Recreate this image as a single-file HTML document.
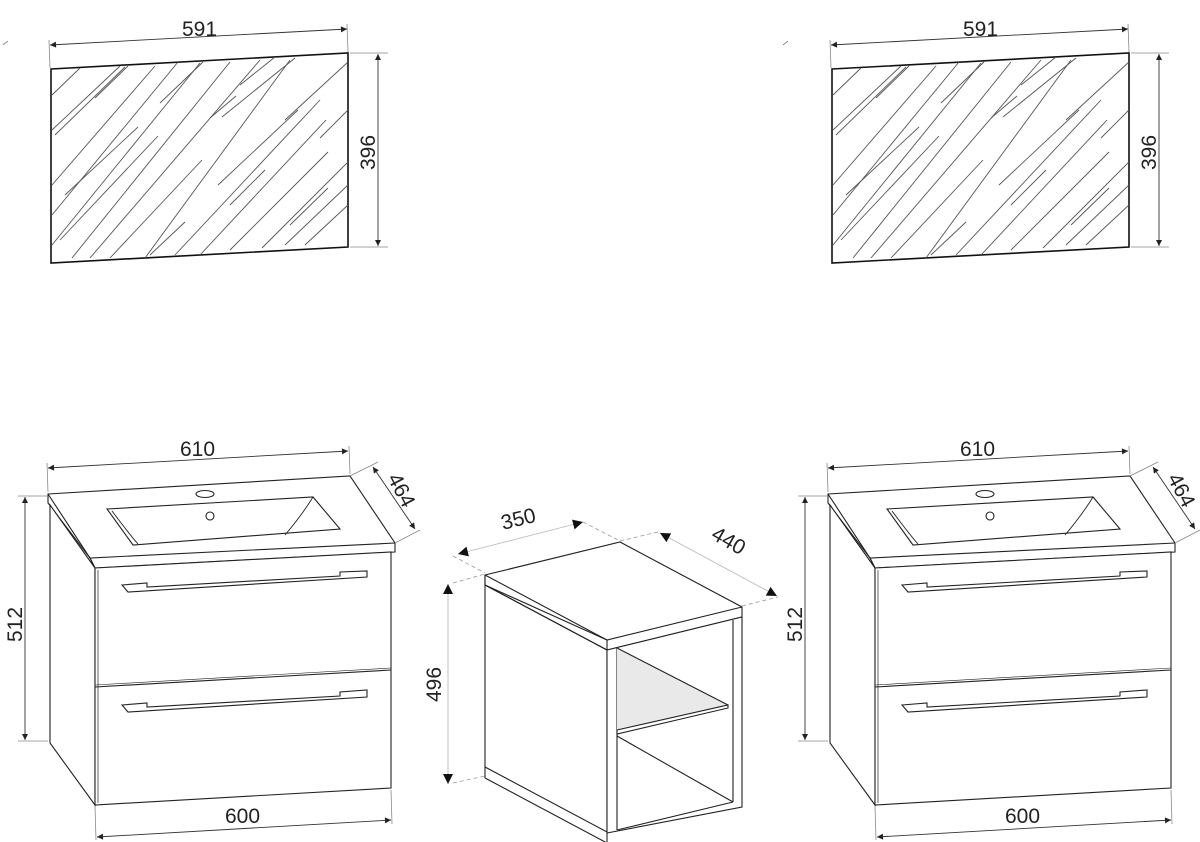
<!DOCTYPE html>
<html><head><meta charset="utf-8"><style>
html,body{margin:0;padding:0;background:#fff;}
svg{display:block;}
text{font-family:"Liberation Sans",Arial,sans-serif;font-size:21px;fill:#222;}
</style></head><body>
<svg width="1200" height="842" viewBox="0 0 1200 842" xmlns="http://www.w3.org/2000/svg">
<defs>
<marker id="a" viewBox="0 0 10 10" refX="10" refY="5" markerWidth="9" markerHeight="6" orient="auto-start-reverse" markerUnits="userSpaceOnUse"><path d="M0,0 L10,5 L0,10 z" fill="#222"/></marker>
<marker id="b" viewBox="0 0 10 10" refX="10" refY="5" markerWidth="16" markerHeight="10" orient="auto-start-reverse" markerUnits="userSpaceOnUse"><path d="M0,0 L10,5 L0,10 z" fill="#111"/></marker>
<clipPath id="mc"><polygon points="51,69 348,53 348,247 51,263"/></clipPath>
<g id="mirror">
 <polygon points="51,69 348,53 348,247 51,263" fill="#fff" stroke="#111" stroke-width="1.6"/>
 <g clip-path="url(#mc)" stroke="#555" stroke-width="0.9">
  <line x1="52" y1="95" x2="80" y2="68"/><line x1="52" y1="130" x2="120" y2="66"/><line x1="55" y1="135" x2="125" y2="67"/>
  <line x1="95" y1="98" x2="128" y2="66"/><line x1="52" y1="185" x2="155" y2="66"/><line x1="52" y1="215" x2="178" y2="62"/>
  <line x1="65" y1="195" x2="138" y2="127"/><line x1="52" y1="245" x2="200" y2="63"/><line x1="60" y1="240" x2="158" y2="136"/>
  <line x1="72" y1="258" x2="230" y2="62"/><line x1="90" y1="258" x2="260" y2="60"/><line x1="110" y1="258" x2="202" y2="160"/>
  <line x1="145" y1="258" x2="290" y2="60"/><line x1="150" y1="255" x2="185" y2="222"/><line x1="160" y1="103" x2="203" y2="62"/>
  <line x1="210" y1="118" x2="236" y2="96"/><line x1="222" y1="117" x2="295" y2="58"/><line x1="230" y1="205" x2="265" y2="170"/>
  <line x1="218" y1="185" x2="298" y2="110"/><line x1="175" y1="255" x2="320" y2="100"/><line x1="200" y1="255" x2="326" y2="120"/>
  <line x1="230" y1="250" x2="328" y2="152"/><line x1="262" y1="248" x2="348" y2="162"/><line x1="285" y1="245" x2="348" y2="185"/>
  <line x1="305" y1="245" x2="348" y2="205"/><line x1="320" y1="138" x2="348" y2="110"/><line x1="285" y1="120" x2="348" y2="62"/>
  <line x1="240" y1="85" x2="275" y2="57"/><line x1="290" y1="225" x2="328" y2="188"/>
 </g>
 <line x1="50" y1="68" x2="49" y2="40" stroke="#888" stroke-width="0.8"/>
 <line x1="348" y1="52" x2="347" y2="24" stroke="#888" stroke-width="0.8"/>
 <line x1="50" y1="45" x2="347" y2="29" stroke="#333" stroke-width="0.9" marker-start="url(#a)" marker-end="url(#a)"/>
 <line x1="350" y1="53" x2="388" y2="53" stroke="#888" stroke-width="0.8"/>
 <line x1="350" y1="247" x2="388" y2="247" stroke="#888" stroke-width="0.8"/>
 <line x1="378" y1="54" x2="378" y2="246" stroke="#333" stroke-width="0.9" marker-start="url(#a)" marker-end="url(#a)"/>
</g>
<g id="vanity" fill="#fff" stroke="#222" stroke-width="1.1">
 <polygon points="48,494 350,476 395,543 395,552 95,568 90,558 48,503"/>
 <polyline points="48,494 90,558 395,543" fill="none"/>
 <line x1="90" y1="558" x2="95" y2="568"/>
 <path d="M107,509 L313,497 L340,529 L133,545 Z" fill="#fff"/>
 <path d="M112,511 Q130,535 138,544 M313,497 Q302,515 285,535" fill="none" stroke-width="0.9"/>
 <ellipse cx="205" cy="494" rx="9" ry="3.5" fill="#fff"/>
 <circle cx="210" cy="516" r="4" fill="#fff"/>
 <polygon points="50,505 95,568 95,805 50,743"/>
 <polygon points="95,568 391,552 391,788 95,805"/>
 <line x1="95" y1="687" x2="391" y2="670"/>
 <line x1="95" y1="685" x2="391" y2="668" stroke-width="0.6"/>
 <line x1="98" y1="570" x2="98" y2="803" stroke-width="0.7"/>
 <path d="M122,585 L147,583 L147,587 L340,576 L340,572 L367,571 L367,577 L128,592 Z"/>
 <path d="M122,705 L147,703 L147,707 L340,696 L340,692 L367,690 L367,697 L128,712 Z"/>
 <line x1="48" y1="492" x2="47" y2="463" stroke="#888" stroke-width="0.8"/>
 <line x1="350" y1="474" x2="349" y2="446" stroke="#888" stroke-width="0.8"/>
 <line x1="48" y1="468" x2="348" y2="451" stroke="#333" stroke-width="0.9" marker-start="url(#a)" marker-end="url(#a)"/>
 <line x1="350" y1="476" x2="378" y2="462" stroke="#888" stroke-width="0.8"/>
 <line x1="395" y1="543" x2="420" y2="530" stroke="#888" stroke-width="0.8"/>
 <line x1="373" y1="467" x2="415" y2="529" stroke="#333" stroke-width="0.9" marker-start="url(#a)" marker-end="url(#a)"/>
 <line x1="47" y1="496" x2="18" y2="496" stroke="#888" stroke-width="0.8"/>
 <line x1="48" y1="741" x2="18" y2="741" stroke="#888" stroke-width="0.8"/>
 <line x1="25" y1="497" x2="25" y2="740" stroke="#333" stroke-width="0.9" marker-start="url(#a)" marker-end="url(#a)"/>
 <line x1="95" y1="806" x2="96" y2="840" stroke="#888" stroke-width="0.8"/>
 <line x1="391" y1="790" x2="392" y2="824" stroke="#888" stroke-width="0.8"/>
 <line x1="97" y1="837" x2="391" y2="820" stroke="#333" stroke-width="0.9" marker-start="url(#a)" marker-end="url(#a)"/>
</g>
</defs>

<use href="#mirror"/>
<use href="#mirror" transform="translate(781,0)"/>
<text x="182" y="36">591</text>
<text x="963" y="36">591</text>
<text transform="translate(375,170) rotate(-90)">396</text>
<text transform="translate(1156,170) rotate(-90)">396</text>
<path d="M3,45 L8,41" stroke="#666" stroke-width="0.8"/>
<path d="M783,45 L788,41" stroke="#666" stroke-width="0.8"/>

<use href="#vanity"/>
<use href="#vanity" transform="translate(780,0)"/>
<text x="180" y="456">610</text>
<text x="960" y="456">610</text>
<text x="225" y="823">600</text>
<text x="1005" y="823">600</text>
<text transform="translate(22,642) rotate(-90)">512</text>
<text transform="translate(802,642) rotate(-90)">512</text>
<text transform="translate(387,478) rotate(62)">464</text>
<text transform="translate(1167,478) rotate(62)">464</text>

<!-- side table -->
<g fill="#fff" stroke="#222" stroke-width="1.1">
 <polygon points="485,575 620,542 742,607 742,617 607,650 607,640 485,585"/>
 <polyline points="485,575 607,640 742,607" fill="none"/>
 <polygon points="485,575 485,767 607,832 607,650 485,585"/>
 <polygon points="607,650 742,617 742,807 607,833"/>
 <line x1="485" y1="585" x2="607" y2="650"/>
 <line x1="485" y1="767" x2="485" y2="778"/>
 <line x1="485" y1="778" x2="607" y2="843"/>
 <line x1="607" y1="833" x2="607" y2="843"/>
 <line x1="617" y1="648" x2="617" y2="830"/>
 <line x1="733" y1="620" x2="733" y2="802"/>
 <line x1="617" y1="830" x2="733" y2="802"/>
 <polygon points="617,648 728,705 617,730" fill="#e9e9e9" stroke="none"/>
 <line x1="617" y1="648" x2="728" y2="705"/>
 <polygon points="617,730 728,705 728,708 617,734" fill="#fff"/>
 <line x1="617" y1="736" x2="733" y2="802"/>
</g>
<g stroke="#999" stroke-width="0.8" stroke-dasharray="4,3" fill="none">
 <line x1="453" y1="556" x2="485" y2="573"/>
 <line x1="453" y1="583" x2="485" y2="574"/>
 <line x1="583" y1="522" x2="620" y2="541"/>
 <line x1="620" y1="541" x2="658" y2="532"/>
 <line x1="742" y1="606" x2="778" y2="597"/>
 <line x1="453" y1="783" x2="485" y2="776"/>
</g>
<g stroke="#bbb" stroke-width="0.9">
 <line x1="458" y1="554" x2="583" y2="522" marker-start="url(#b)" marker-end="url(#b)"/>
 <line x1="660" y1="533" x2="777" y2="596" marker-start="url(#b)" marker-end="url(#b)"/>
 <line x1="448" y1="584" x2="448" y2="784" marker-start="url(#b)" marker-end="url(#b)"/>
</g>
<text transform="translate(503,530) rotate(-14)">350</text>
<text transform="translate(710,538) rotate(30)">440</text>
<text transform="translate(441,702) rotate(-90)">496</text>
</svg>
</body></html>
